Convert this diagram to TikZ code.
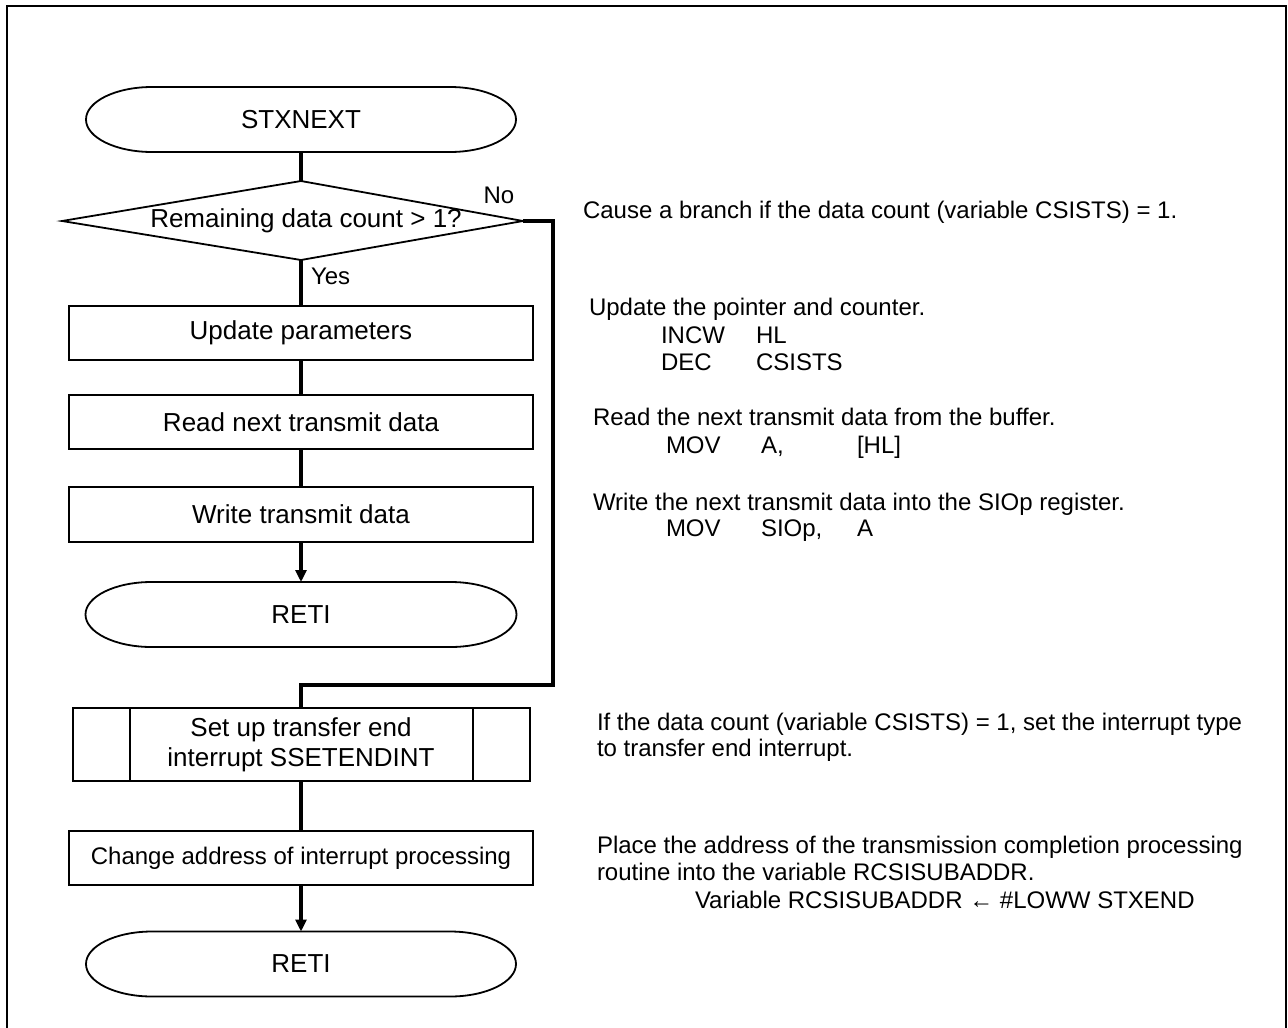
\documentclass[tikz,border=0pt]{standalone}
\usepackage{fontspec}
\setmainfont{Liberation Sans}
\usetikzlibrary{arrows.meta,calc}
\newcommand\flowterm[1]{\draw[termline] ($(#1.north west)+(66,0)$) -- ($(#1.north east)+(-66,0)$) arc[start angle=90,end angle=-90,x radius=66,y radius=32.5] -- ($(#1.south west)+(66,0)$) arc[start angle=270,end angle=90,x radius=66,y radius=32.5] -- cycle;}
\begin{document}
\begin{tikzpicture}[x=1pt,y=1pt,
  every node/.style={inner sep=0pt,outer sep=0pt},
  ftext/.style={font=\fontsize{26}{30}\selectfont},
  ntext/.style={font=\fontsize{24}{27}\selectfont},
  procbox/.style={draw,line width=2pt,ftext,minimum width=464,minimum height=54,align=center},
  termnode/.style={ftext,minimum width=430,minimum height=65},
  termline/.style={line width=1.8pt},
  conn/.style={line width=3.6pt},
  arr/.style={conn,-{Triangle[length=12pt,width=11pt]}},
  note/.style={ntext,anchor=base west}]
\useasboundingbox (0,0) rectangle (1288,-1028);
\fill[white] (0,0) rectangle (1288,-1028);
\draw[line width=2.4pt] (7,-1040) -- (7,-6) -- (1286,-6) -- (1286,-1040);

% flowchart nodes
\node[termnode] (stx) at (301,-119.5) {STXNEXT};
\flowterm{stx}
\coordinate (dL) at (62,-221);
\coordinate (dT) at (301,-181);
\coordinate (dR) at (523,-221);
\coordinate (dB) at (301,-260);
\draw[line width=1.8pt] (dL) -- (dT) -- (dR) -- (dB) -- cycle;
\node[ftext] (dtext) at (306,-221) {Remaining data count > 1?};
\node[ntext] (no) at (499,-195) {No};
\node[ntext,anchor=west] (yes) at (311,-276) {Yes};

\node[procbox] (upd) at (301,-333) {Update parameters};
\node[procbox] (rd) at (301,-422) {Read next transmit data};
\node[procbox,minimum height=55] (wr) at (301,-514.5) {Write transmit data};
\node[termnode,minimum width=431] (reti1) at (301,-614.5) {RETI};
\flowterm{reti1}

\node[procbox,minimum width=457,minimum height=73] (sub) at (301,-744.5) {Set up transfer end\\interrupt SSETENDINT};
\draw[line width=2pt] ($(sub.north west)+(57,0)$) -- ($(sub.south west)+(57,0)$);
\draw[line width=2pt] ($(sub.north east)+(-57,0)$) -- ($(sub.south east)+(-57,0)$);
\node[procbox,font=\fontsize{24}{28}\selectfont] (chg) at (301,-858) {Change address of interrupt processing};
\node[termnode] (reti2) at (301,-964) {RETI};
\flowterm{reti2}

% connectors
\draw[conn] (stx.south) -- (dT);
\draw[conn] (dB) -- (upd.north);
\draw[conn] (upd.south) -- (rd.north);
\draw[conn] (rd.south) -- (wr.north);
\draw[arr] (wr.south) -- (reti1.north);
\coordinate (br1) at (553,-221);
\coordinate (br2) at (553,-685);
\coordinate (br3) at (301,-685);
\draw[conn] (dR) -- (br1) -- (br2) -- (br3) -- (sub.north);
\draw[conn] (sub.south) -- (chg.north);
\draw[arr] (chg.south) -- (reti2.north);

% notes
\node[note] (n1) at (583,-218.5) {Cause a branch if the data count (variable CSISTS) = 1.};
\node[note] (n2) at (589,-315.5) {Update the pointer and counter.};
\node[note] (n2a) at (661,-343.5) {INCW};
\node[note] (n2b) at (756,-343.5) {HL};
\node[note] (n2c) at (661,-370.5) {DEC};
\node[note] (n2d) at (756,-370.5) {CSISTS};
\node[note] (n3) at (593,-425.5) {Read the next transmit data from the buffer.};
\node[note] (n3a) at (666,-453.5) {MOV};
\node[note] (n3b) at (761,-453.5) {A,};
\node[note] (n3c) at (857,-453.5) {[HL]};
\node[note] (n4) at (593,-510.5) {Write the next transmit data into the SIOp register.};
\node[note] (n4a) at (666,-536.5) {MOV};
\node[note] (n4b) at (761,-536.5) {SIOp,};
\node[note] (n4c) at (857,-536.5) {A};
\node[note] (n5) at (597,-730.5) {If the data count (variable CSISTS) = 1, set the interrupt type};
\node[note] (n5b) at (597,-756.5) {to transfer end interrupt.};
\node[note] (n6) at (597,-853.5) {Place the address of the transmission completion processing};
\node[note] (n6b) at (597,-880.5) {routine into the variable RCSISUBADDR.};
\node[note] (n6c) at (695,-908.5) {Variable RCSISUBADDR ← \#LOWW STXEND};
\end{tikzpicture}
\end{document}
